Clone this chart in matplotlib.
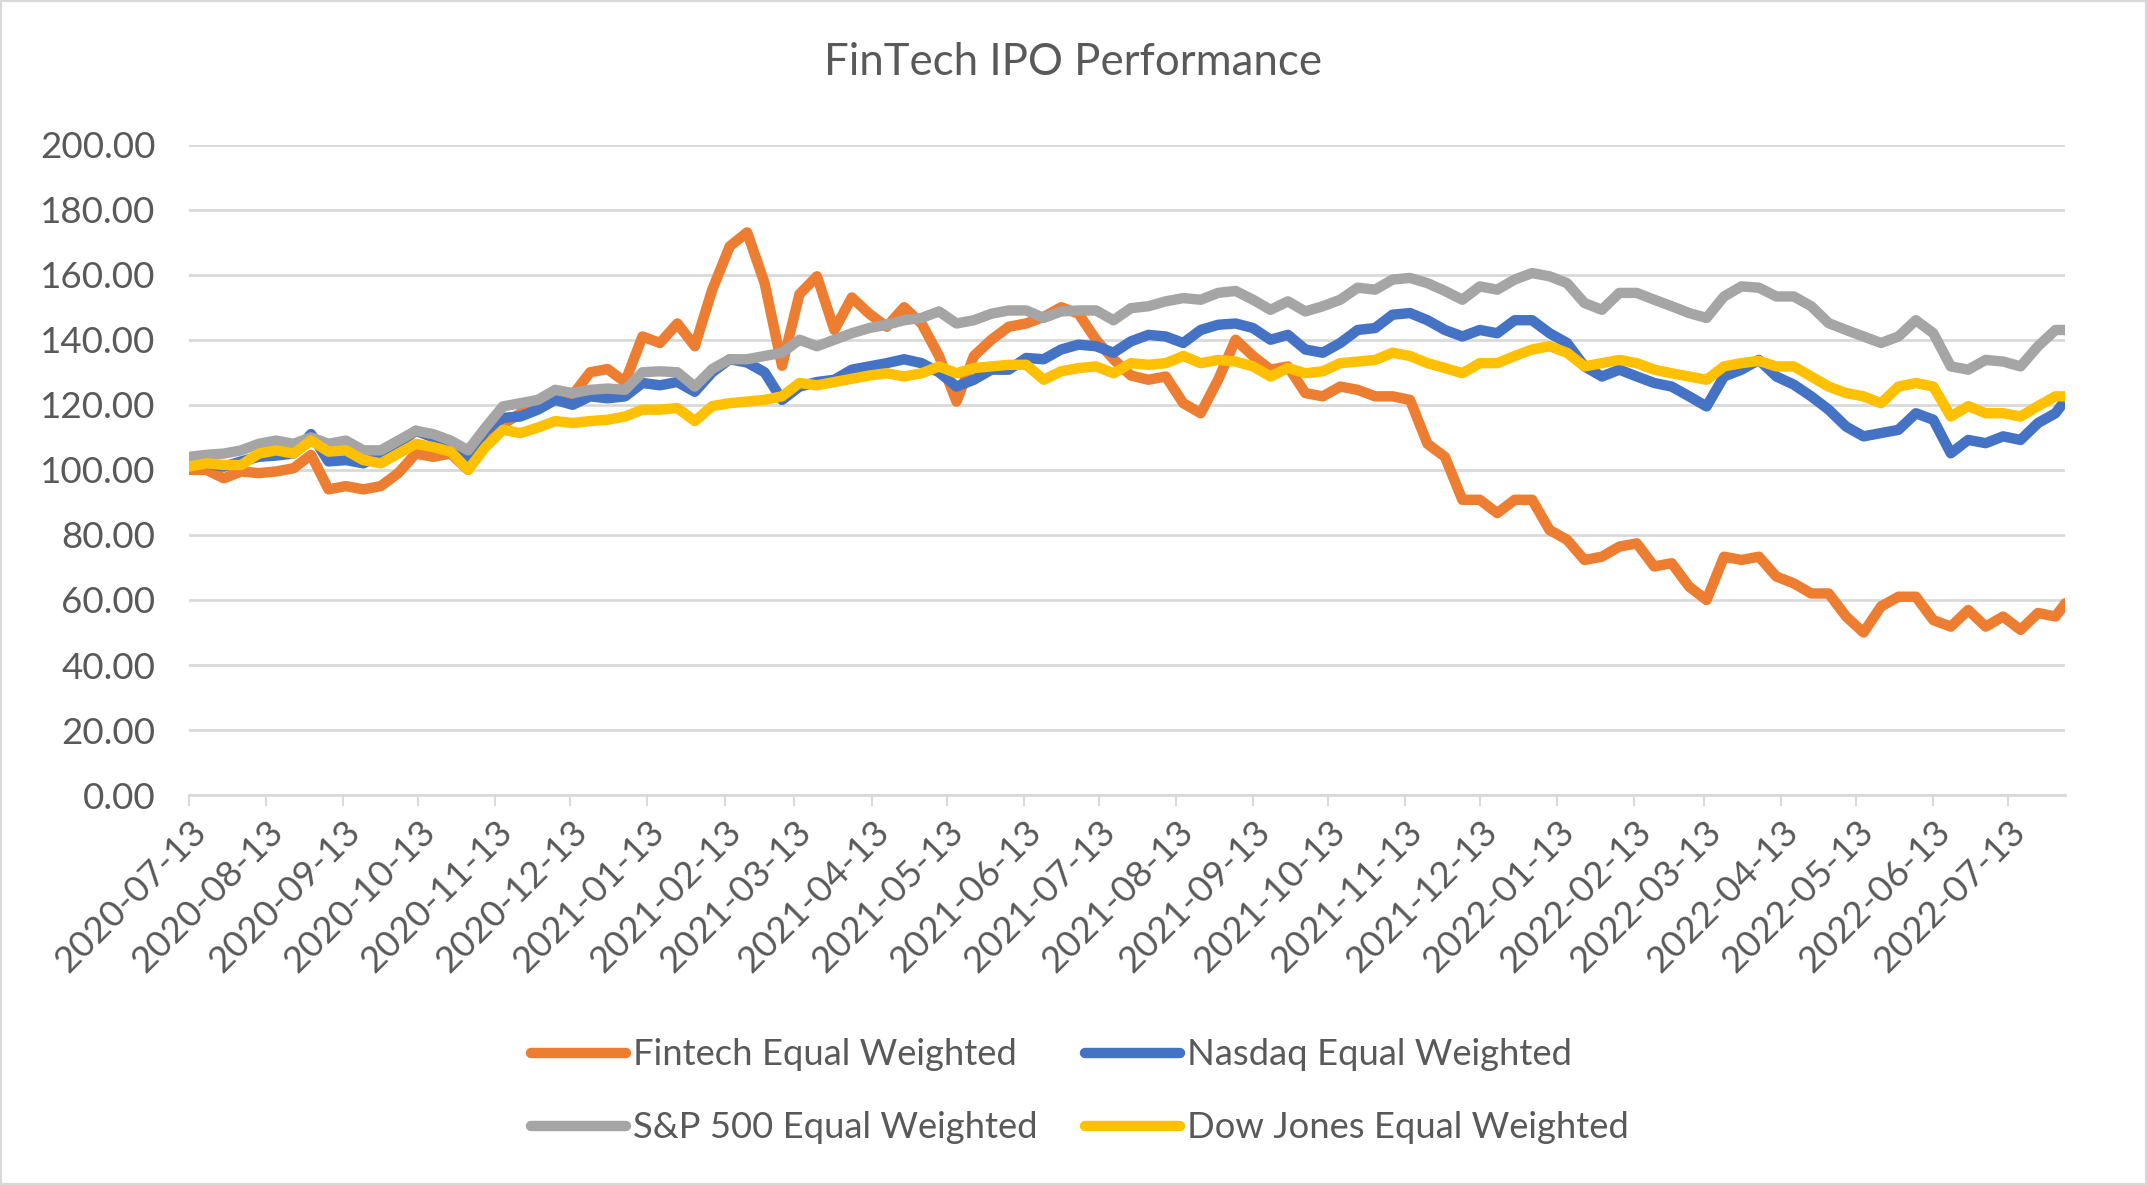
import matplotlib
matplotlib.use("Agg")
import matplotlib.pyplot as plt
import matplotlib.dates as mdates
from matplotlib.patches import Rectangle
from matplotlib.ticker import FuncFormatter, MultipleLocator
import pandas as pd

# weekly readings (index = 100 at start)
dates = list(pd.date_range("2020-07-13", "2022-08-01", freq="7D")) + [pd.Timestamp("2022-08-05")]

fintech = [100, 100, 97.4, 99.5, 99, 99.5, 100.5, 104.6, 94, 95,
           94, 95, 99, 105, 104, 105, 100, 109, 114, 117.4,
           119.5, 124, 123, 130, 131, 127, 141, 139, 145, 138,
           155.4, 168.7, 173, 157.4, 132, 154, 159.5, 143, 153, 148,
           144, 150, 145, 135, 121, 135, 140, 144, 145, 147,
           150, 148, 140, 134, 129, 127.7, 128.7, 120.5, 117.4, 127.7,
           140, 135, 130.8, 131.8, 123.6, 122.6, 125.6, 124.6, 122.6, 122.6,
           121.5, 108, 104, 90.8, 90.8, 86.7, 90.8, 90.8, 81.5, 78.5,
           72.3, 73.3, 76.4, 77.4, 70.3, 71.3, 64.1, 60, 73.3, 72.3,
           73.3, 67.2, 65.1, 62, 62, 54.9, 50, 58, 61, 61,
           53.8, 51.8, 56.9, 51.8, 54.9, 50.8, 56, 54.9, 59]

nasdaq = [102, 102, 101, 102.6, 104, 104.4, 105, 111, 102.6, 103,
          102, 104.6, 108, 112, 110, 108, 104, 112, 116, 116.4,
          118.5, 121.5, 120, 122.6, 122, 122.6, 126.7, 126, 127, 124,
          130, 134, 133, 130, 121.5, 125.6, 127, 127.7, 130.8, 131.8,
          132.8, 134, 132.8, 130, 125.6, 127.7, 130.8, 130.8, 134.4, 134,
          137, 138.5, 138, 136, 139.5, 141.5, 141, 139, 143, 144.6,
          145, 143.6, 140, 141.5, 137, 136, 139, 143, 143.6, 147.7,
          148.2, 146, 143, 141, 143, 142, 146, 146, 142, 139,
          131.8, 128.7, 130.8, 128.7, 126.7, 125.6, 122.6, 119.5, 128.7, 130.8,
          133.8, 128.7, 126.2, 122.6, 118.5, 113.3, 110.3, 111.3, 112.3, 117.4,
          115.4, 105.1, 109.2, 108.2, 110.3, 109.2, 114.4, 117.4, 121.5]

sp500 = [104, 104.6, 105, 106, 108, 109, 108, 110, 108, 109,
         106, 106, 109, 112, 111, 109, 106, 113, 119.5, 120.5,
         121.5, 124.6, 123.6, 124.6, 125, 124.6, 130, 130.3, 130, 125.6,
         131, 134, 134, 135, 136, 140, 138, 140, 142, 143.6,
         144.6, 146, 146.7, 148.7, 145, 146, 148, 149, 149, 146.7,
         148.7, 149, 149, 146, 149.7, 150.3, 151.8, 152.8, 152.3, 154.4,
         155, 152.3, 149.2, 151.8, 148.7, 150.3, 152.3, 156, 155.4, 158.5,
         159, 157.4, 155, 152.3, 156.4, 155.4, 158.5, 160.5, 159.5, 157.4,
         151.3, 149.2, 154.4, 154.4, 152.3, 150.3, 148.2, 146.7, 153.3, 156.4,
         156, 153.3, 153.3, 150.3, 145.1, 143, 141, 139, 141, 146,
         142, 131.8, 130.8, 133.8, 133.3, 131.8, 138, 143, 143]

dow = [101, 102, 101.5, 101.5, 105, 106, 105, 109, 105.6, 106,
       103, 102, 105, 108, 107, 105.6, 100, 107, 112.3, 111.3,
       113, 115, 114.4, 115, 115.4, 116.4, 118.5, 118.5, 119, 115,
       119.6, 120.5, 121, 121.5, 122.6, 126.7, 126, 127, 128, 129,
       129.7, 128.7, 129.7, 131.8, 129.7, 131.3, 131.8, 132.3, 132.3, 127.7,
       130.3, 131.3, 131.8, 129.7, 132.8, 132.3, 132.8, 135, 132.8, 133.8,
       133.3, 131.8, 128.7, 131.3, 129.7, 130.3, 132.8, 133.3, 133.8, 136,
       135, 132.8, 131.3, 129.7, 132.8, 132.8, 135, 137, 138, 136,
       131.8, 132.8, 133.8, 132.8, 130.8, 129.7, 128.7, 127.7, 131.8, 132.8,
       133.5, 131.8, 131.8, 128.7, 125.6, 123.6, 122.6, 120.5, 125.6, 126.7,
       125.6, 116.4, 119.6, 117.4, 117.4, 116.4, 119.6, 122.6, 122.6]

labels = ["Fintech Equal Weighted", "Nasdaq Equal Weighted",
          "S&P 500 Equal Weighted", "Dow Jones Equal Weighted"]
colors = ["#ED7D31", "#4472C4", "#A5A5A5", "#FFC000"]

plt.rcParams["font.family"] = ["Lato", "DejaVu Sans"]
text_color = "#595959"
grid_color = "#D9D9D9"

fig = plt.figure(figsize=(21.47, 11.85), dpi=100)
ax = fig.add_axes([0.088, 0.329, 0.874, 0.549])

lines = []
for series, lab, col in zip([fintech, nasdaq, sp500, dow], labels, colors):
    ln, = ax.plot(dates, series, color=col, lw=7.5, label=lab,
                  solid_joinstyle="round", solid_capstyle="round")
    lines.append(ln)

ax.set_ylim(0, 200)
ax.yaxis.set_major_locator(MultipleLocator(20))
ax.yaxis.set_major_formatter(FuncFormatter(lambda v, p: f"{v:.2f}"))
ax.grid(axis="y", color=grid_color, lw=2)
ax.set_axisbelow(True)

ticks = pd.date_range("2020-07-13", periods=25, freq=pd.DateOffset(months=1))
ax.set_xticks(ticks)
ax.xaxis.set_major_formatter(mdates.DateFormatter("%Y-%m-%d"))
ax.set_xlim(pd.Timestamp("2020-07-13"), pd.Timestamp("2022-08-05"))

for s in ["top", "right", "left"]:
    ax.spines[s].set_visible(False)
ax.spines["bottom"].set_color(grid_color)
ax.spines["bottom"].set_linewidth(2)

ax.tick_params(axis="y", length=0, pad=24, labelsize=26.5, labelcolor=text_color)
ax.tick_params(axis="x", length=8, width=1.5, color=grid_color, pad=6,
               labelsize=26.5, labelcolor=text_color)
for lbl in ax.get_xticklabels():
    lbl.set_rotation(45)
    lbl.set_ha("right")
    lbl.set_va("top")
    lbl.set_rotation_mode("anchor")

fig.text(0.5, 0.947, "FinTech IPO Performance", ha="center", va="center",
         fontsize=31.5, color=text_color)

# legend reads row by row: Fintech, Nasdaq / S&P, Dow
order = [0, 2, 1, 3]
fig.legend([lines[i] for i in order], [labels[i] for i in order],
           loc="center", bbox_to_anchor=(0.503, 0.079), ncol=2, frameon=False,
           fontsize=26.2, labelcolor=text_color, handlelength=2.6,
           handletextpad=0.2, columnspacing=1.3, labelspacing=1.1)

fig.patches.append(Rectangle((0, 0), 1, 1, transform=fig.transFigure, fill=False,
                             edgecolor=grid_color, lw=3))

fig.savefig("out.png", dpi=100)
